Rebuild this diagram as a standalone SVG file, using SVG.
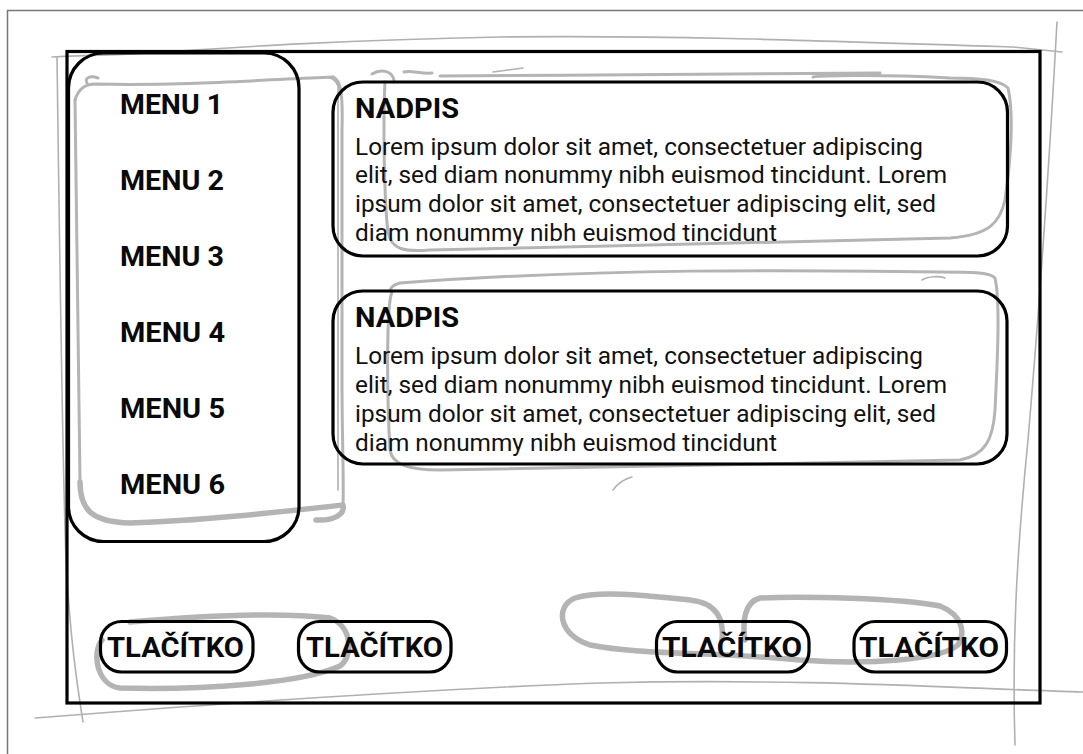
<svg xmlns="http://www.w3.org/2000/svg" width="1083" height="754" viewBox="0 0 1083 754">
<style>
.sk{fill:none;stroke:#b4b4b4;stroke-linecap:round;stroke-linejoin:round}
.thin{stroke-width:1.6;stroke:#b0b0b0}
.mid{stroke-width:3}
.thick{stroke-width:5.5}
.box{fill:none;stroke:#000;stroke-width:3.2}
.menu{font-family:Roboto,"Liberation Sans",sans-serif;font-weight:700;font-size:28px;fill:#0a0a0a}
.head{font-family:Roboto,"Liberation Sans",sans-serif;font-weight:700;font-size:28px;fill:#0a0a0a}
.body{font-family:Roboto,"Liberation Sans",sans-serif;font-weight:400;font-size:23px;fill:#111}
.btn{font-family:Roboto,"Liberation Sans",sans-serif;font-weight:700;font-size:28px;fill:#0a0a0a}
</style>
<rect width="1083" height="754" fill="#fff"/>
<rect x="7.5" y="10.5" width="1100" height="800" fill="none" stroke="#777" stroke-width="1.5"/>

<g id="sketch">
  <path class="sk thin" d="M52,57 C90,55 110,55 133,54 C250,46 350,40 500,37 C650,35 800,40 1013,47 L1062,52"/>
  <path class="sk thin" d="M1057,22 C1050,150 1040,300 1028,440 C1016,560 1012,650 1015,745"/>
  <path class="sk thin" d="M35,718 C200,705 400,690 600,683 C800,678 950,688 1083,692"/>
  <path class="sk thin" d="M57,57 C59,200 62,450 66,560 C70,640 78,690 83,722"/>
  <path class="sk thin" d="M493,72 L523,68"/>
  <path class="sk thin" d="M613,490 C618,483 624,479 632,477"/>
  <path class="sk thin" d="M322,77 C330,77 336,79 338,86 L338,490"/>

  <path class="sk mid" d="M75,100 C78,90 84,84 95,84 C180,86 260,80 333,77"/>
  <path class="sk mid" d="M87,83 C84,78 90,75 98,78"/>
  <path class="sk mid" d="M333,77 C341,80 343,95 342,130 L342,380 C342,440 344,480 343,505"/>
  <path class="sk mid" d="M75,100 C77,200 78,350 80,480"/>
  <path class="sk thick" d="M80,482 C80,510 92,522 130,523 C200,521 280,512 343,505 C345,514 335,521 316,520"/>

  <path class="sk mid" d="M372,74 C380,69 392,70 394,80 M404,72 C412,70 420,74 432,73 M385,82 C383,120 384,200 388,232 C391,250 405,252 430,250 C600,246 800,242 950,238 C990,235 1000,222 1005,200 C1012,150 1013,110 1008,88 C1000,80 980,78 950,78 C870,74 820,76 813,77 M880,73 C800,74 600,75 440,76"/>
  <path class="sk mid" d="M392,292 C386,305 387,400 390,450 C392,465 410,470 440,470 C600,468 800,463 960,460 C985,455 993,440 995,410 C998,350 1000,300 995,278 C990,272 970,272 940,272 C800,270 600,268 400,283 C392,285 388,290 392,292"/>
  <path class="sk thin" d="M922,280 C928,276 940,276 945,278"/>

  <path class="sk thick" d="M130,622 C200,616 280,612 330,618 C352,626 354,656 340,666 C300,684 200,690 120,688 C96,685 92,652 102,640"/>
  <path class="sk thick" d="M722,640 C724,620 718,603 690,600 C650,596 600,590 575,598 C555,606 558,635 590,645 C640,655 720,652 800,660 C870,665 940,660 958,645 C966,632 962,615 940,606 C900,598 800,596 760,598 C745,602 742,620 745,640"/>
</g>

<g id="frame">
  <rect class="box" x="67" y="51.5" width="973" height="651.5" stroke-width="3.5"/>
</g>

<g id="menu">
  <rect class="box" x="68.5" y="53" width="230.5" height="488.5" rx="35" ry="35"/>
  <text class="menu" x="120" y="114" textLength="103" lengthAdjust="spacingAndGlyphs">MENU 1</text>
  <text class="menu" x="120" y="190" textLength="104" lengthAdjust="spacingAndGlyphs">MENU 2</text>
  <text class="menu" x="120" y="266" textLength="104" lengthAdjust="spacingAndGlyphs">MENU 3</text>
  <text class="menu" x="120" y="342" textLength="105" lengthAdjust="spacingAndGlyphs">MENU 4</text>
  <text class="menu" x="120" y="418" textLength="105" lengthAdjust="spacingAndGlyphs">MENU 5</text>
  <text class="menu" x="120" y="494" textLength="105" lengthAdjust="spacingAndGlyphs">MENU 6</text>
</g>

<g id="article1">
  <rect class="box" x="333" y="82" width="674.5" height="174" rx="30" ry="30"/>
  <text class="head" x="355" y="118" textLength="104" lengthAdjust="spacingAndGlyphs">NADPIS</text>
  <text class="body" x="355" y="154.5" textLength="568" lengthAdjust="spacingAndGlyphs">Lorem ipsum dolor sit amet, consectetuer adipiscing</text>
  <text class="body" x="355" y="183.3" textLength="592" lengthAdjust="spacingAndGlyphs">elit, sed diam nonummy nibh euismod tincidunt. Lorem</text>
  <text class="body" x="355" y="212" textLength="581" lengthAdjust="spacingAndGlyphs">ipsum dolor sit amet, consectetuer adipiscing elit, sed</text>
  <text class="body" x="355" y="240.7" textLength="422" lengthAdjust="spacingAndGlyphs">diam nonummy nibh euismod tincidunt</text>
</g>

<g id="article2">
  <rect class="box" x="333" y="291" width="674" height="173" rx="30" ry="30"/>
  <text class="head" x="355" y="327.3" textLength="104" lengthAdjust="spacingAndGlyphs">NADPIS</text>
  <text class="body" x="355" y="364" textLength="568" lengthAdjust="spacingAndGlyphs">Lorem ipsum dolor sit amet, consectetuer adipiscing</text>
  <text class="body" x="355" y="393" textLength="592" lengthAdjust="spacingAndGlyphs">elit, sed diam nonummy nibh euismod tincidunt. Lorem</text>
  <text class="body" x="355" y="421.7" textLength="581" lengthAdjust="spacingAndGlyphs">ipsum dolor sit amet, consectetuer adipiscing elit, sed</text>
  <text class="body" x="355" y="450.5" textLength="422" lengthAdjust="spacingAndGlyphs">diam nonummy nibh euismod tincidunt</text>
</g>

<g id="button1">
  <rect class="box" x="100.5" y="621.5" width="152.5" height="50.5" rx="21" ry="21"/>
  <text class="btn" x="107" y="657" textLength="137" lengthAdjust="spacingAndGlyphs">TLAČÍTKO</text>
</g>
<g id="button2">
  <rect class="box" x="298.5" y="621.5" width="152.5" height="50.5" rx="21" ry="21"/>
  <text class="btn" x="306" y="657" textLength="137" lengthAdjust="spacingAndGlyphs">TLAČÍTKO</text>
</g>
<g id="button3">
  <rect class="box" x="656.5" y="621.5" width="152.5" height="50.5" rx="21" ry="21"/>
  <text class="btn" x="662" y="657" textLength="140" lengthAdjust="spacingAndGlyphs">TLAČÍTKO</text>
</g>
<g id="button4">
  <rect class="box" x="854" y="621.5" width="152.5" height="50.5" rx="21" ry="21"/>
  <text class="btn" x="859" y="657" textLength="140" lengthAdjust="spacingAndGlyphs">TLAČÍTKO</text>
</g>

<g id="connectors"/>
</svg>
